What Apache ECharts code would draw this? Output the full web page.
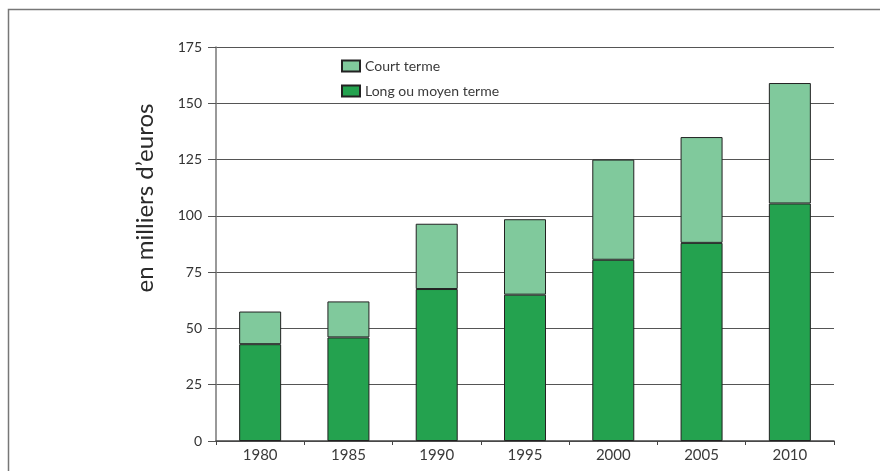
<!DOCTYPE html>
<html>
<head>
<meta charset="utf-8">
<script src="https://cdn.jsdelivr.net/npm/echarts@6/dist/echarts.min.js"></script>
<style>html,body{margin:0;padding:0;background:#fff}#c{width:880px;height:471px}</style>
</head>
<body>
<div id="c"></div>
<script>
var categories = ['1980', '1985', '1990', '1995', '2000', '2005', '2010'];
var longTerme = [43, 46, 67.5, 65, 80.5, 88, 105.5];
var courtTerme = [14.5, 16, 29, 33.5, 44.5, 47, 53.5];
var seriesNames = ['Court terme', 'Long ou moyen terme'];
var yAxisTitle = "en milliers d\u2019euros";

var font = 'Lato, "DejaVu Sans", sans-serif';
var chart = echarts.init(document.getElementById('c'), null, {renderer: 'canvas'});
chart.setOption({
  animation: false,
  backgroundColor: '#fff',
  grid: {left: 216, right: 46, top: 47, bottom: 30, containLabel: false},
  legend: {
    data: seriesNames,
    orient: 'vertical',
    left: 336, top: 54,
    icon: 'rect',
    itemWidth: 18, itemHeight: 11, itemGap: 11,
    textStyle: {fontFamily: font, fontSize: 14, color: '#3a3a3a'}
  },
  xAxis: {
    type: 'category',
    data: categories,
    axisLine: {lineStyle: {color: '#444', width: 1.5}},
    axisTick: {show: true, length: 4, lineStyle: {color: '#444'}},
    axisLabel: {fontFamily: font, fontSize: 15, color: '#3a3a3a', margin: 7}
  },
  yAxis: {
    type: 'value',
    min: 0, max: 175, interval: 25,
    axisLine: {show: true, lineStyle: {color: '#777', width: 1.5}},
    axisTick: {show: true, length: 8, lineStyle: {color: '#555'}},
    axisLabel: {fontFamily: font, fontSize: 14, color: '#333', margin: 14},
    splitLine: {lineStyle: {color: '#555', width: 1}}
  },
  series: [
    {
      name: seriesNames[1], type: 'bar', stack: 'total', barWidth: 42,
      data: longTerme,
      itemStyle: {color: '#24a24f', borderColor: '#222', borderWidth: 1}
    },
    {
      name: seriesNames[0], type: 'bar', stack: 'total', barWidth: 42,
      data: courtTerme,
      itemStyle: {color: '#80c99c', borderColor: '#222', borderWidth: 1}
    }
  ],
  graphic: [
    {type: 'rect', shape: {x: 8.5, y: 9.5, width: 900, height: 500}, style: {fill: 'none', stroke: '#777', lineWidth: 1.5}, silent: true},
    {type: 'text', x: 145, y: 198, rotation: Math.PI / 2,
     style: {text: yAxisTitle, fontFamily: font, fontSize: 24, fill: '#2a2a2a', textAlign: 'center', textVerticalAlign: 'middle'}}
  ]
});
</script>
</body>
</html>
